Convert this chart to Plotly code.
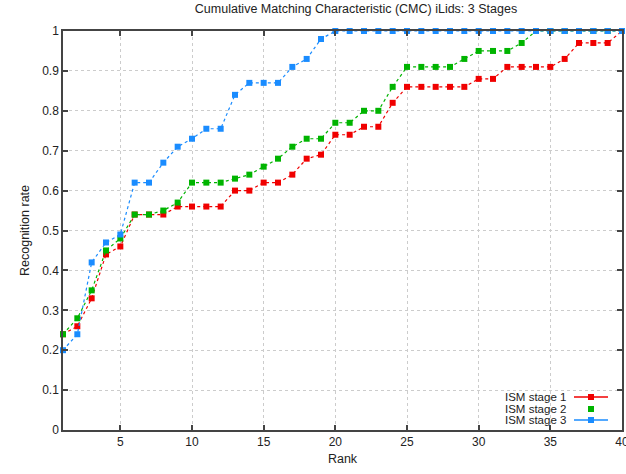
import plotly.graph_objects as go

rank = list(range(1, 41))
stage1 = [0.24, 0.26, 0.33, 0.44, 0.46, 0.54, 0.54, 0.54, 0.56, 0.56,
          0.56, 0.56, 0.60, 0.60, 0.62, 0.62, 0.64, 0.68, 0.69, 0.74,
          0.74, 0.76, 0.76, 0.82, 0.86, 0.86, 0.86, 0.86, 0.86, 0.88,
          0.88, 0.91, 0.91, 0.91, 0.91, 0.93, 0.97, 0.97, 0.97, 1.00]
stage2 = [0.24, 0.28, 0.35, 0.45, 0.48, 0.54, 0.54, 0.55, 0.57, 0.62,
          0.62, 0.62, 0.63, 0.64, 0.66, 0.68, 0.71, 0.73, 0.73, 0.77,
          0.77, 0.80, 0.80, 0.86, 0.91, 0.91, 0.91, 0.91, 0.93, 0.95,
          0.95, 0.95, 0.97, 1.00, 1.00, 1.00, 1.00, 1.00, 1.00, 1.00]
stage3 = [0.20, 0.24, 0.42, 0.47, 0.49, 0.62, 0.62, 0.67, 0.71, 0.73,
          0.755, 0.755, 0.84, 0.87, 0.87, 0.87, 0.91, 0.93, 0.98, 1.00,
          1.00, 1.00, 1.00, 1.00, 1.00, 1.00, 1.00, 1.00, 1.00, 1.00,
          1.00, 1.00, 1.00, 1.00, 1.00, 1.00, 1.00, 1.00, 1.00, 1.00]
names = ["ISM stage 1", "ISM stage 2", "ISM stage 3"]
colors = ["#f00000", "#00b400", "#1a8cff"]
x_ticks = [5, 10, 15, 20, 25, 30, 35, 40]
y_ticks = [0, 0.1, 0.2, 0.3, 0.4, 0.5, 0.6, 0.7, 0.8, 0.9, 1]
y_tick_text = ["0", "0.1", "0.2", "0.3", "0.4", "0.5", "0.6", "0.7", "0.8", "0.9", "1"]

FONT = "Liberation Sans, Arial, sans-serif"
TXT = "#222222"
W, H = 626, 474
L, R, T, B = 63, 4, 31, 44

fig = go.Figure()
for ys, name, c in zip([stage1, stage2, stage3], names, colors):
    fig.add_trace(go.Scatter(
        x=rank, y=ys, name=name, mode="lines+markers",
        line=dict(color=c, width=1.2, dash="dot"),
        marker=dict(symbol="square", size=6, color=c),
        cliponaxis=False, showlegend=False,
    ))

axis_common = dict(
    showline=True, linecolor="#444444", linewidth=1.5, mirror="allticks",
    ticks="inside", ticklen=5, tickcolor="#444444", tickwidth=1.5,
    showgrid=True, gridcolor="#cccccc", griddash="dot", gridwidth=1,
    zeroline=False, automargin=False, ticklabeloverflow="allow",
    tickfont=dict(family=FONT, size=12, color=TXT),
)
fig.update_xaxes(range=[1, 40], tickvals=x_ticks, **axis_common,
                 title=dict(text="Rank", font=dict(family=FONT, size=12.5, color=TXT), standoff=6))
fig.update_yaxes(range=[0, 1], tickvals=y_ticks, ticktext=y_tick_text, **axis_common,
                 title=dict(text="Recognition rate", font=dict(family=FONT, size=12.5, color=TXT), standoff=10))

# custom legend (text right-aligned, sample on the right) in paper coords
shapes = []
annotations = []
pw, ph = W - L - R, H - T - B
def px(x):
    return (x - L) / pw
def py(y):
    return (H - B - y) / ph
rows = [397, 409, 420]
for name, c, yrow, has_line in zip(names, colors, rows, [True, False, True]):
    annotations.append(dict(x=px(567), y=py(yrow), xref="paper", yref="paper",
                            text=name, showarrow=False, xanchor="right", yanchor="middle",
                            borderpad=0,
                            font=dict(family=FONT, size=11.5, color=TXT)))
    if has_line:
        shapes.append(dict(type="line", xref="paper", yref="paper",
                           x0=px(574), x1=px(608), y0=py(yrow), y1=py(yrow),
                           line=dict(color=c, width=1.5)))
    shapes.append(dict(type="rect", xref="paper", yref="paper",
                       x0=px(588), x1=px(594), y0=py(yrow + 3), y1=py(yrow - 3),
                       fillcolor=c, line=dict(width=0)))

fig.update_layout(
    width=W, height=H,
    margin=dict(l=L, r=R, t=T, b=B, autoexpand=False),
    paper_bgcolor="white", plot_bgcolor="white",
    title=dict(text="Cumulative Matching Characteristic (CMC) iLids: 3 Stages",
               x=356 / W, xanchor="center", y=1 - 9 / H, yanchor="middle",
               font=dict(family=FONT, size=12.5, color=TXT)),
    shapes=shapes, annotations=annotations, showlegend=False,
)

fig.write_html("out.html", config={"displayModeBar": False},
               post_script="document.body.style.margin='0px';document.body.style.overflow='hidden';")
